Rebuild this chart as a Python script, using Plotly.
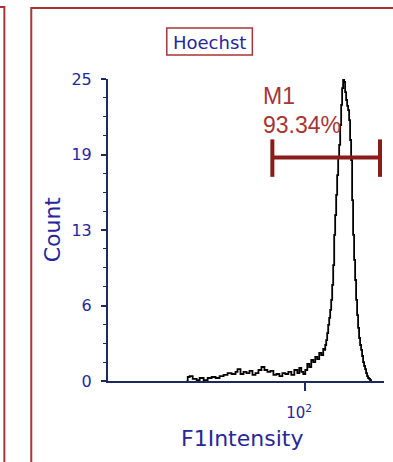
import plotly.graph_objects as go

# ---- data ----
intensity = [14.4, 14.66, 15.14, 15.90, 16.97, 17.82, 19.02, 20.30, 21.67, 23.12, 24.69,
             26.35, 28.12, 30.02, 32.03, 33.10, 34.75, 36.50, 38.32, 40.25, 42.27,
             44.38, 46.60, 48.94, 51.39, 53.96, 56.68, 59.52, 62.50, 65.61, 68.91,
             72.36, 75.98, 79.78, 83.78, 87.99, 90.90, 93.91, 97.03, 100.2, 103.6,
             107.0, 110.5, 114.2, 118.0, 121.9, 125.9, 130.1, 134.4, 136.6, 138.9,
             141.1, 143.4, 145.8, 148.2, 150.6, 153.1, 155.6, 158.2, 160.8, 163.4,
             166.1, 168.8, 171.6, 174.4, 177.3, 180.2, 183.1, 186.1, 189.2, 192.3,
             195.5, 198.7, 202.0, 205.3, 208.6, 212.1, 215.6, 219.1, 222.7, 226.4,
             230.1, 233.9, 237.7, 241.6, 245.6, 249.7, 253.7, 257.9, 262.2, 266.5,
             270.8, 275.3, 279.8, 284.4, 289.1, 293.8]
count = [0, 0.33, 0.41, 0.17, 0.08, 0.25, 0.08, 0.25, 0.33, 0.25, 0.41,
         0.50, 0.66, 0.58, 0.75, 0.99, 0.58, 0.75, 0.66, 0.83, 0.50,
         0.66, 0.91, 1.16, 0.91, 0.75, 0.83, 0.50, 0.58, 0.41, 0.66,
         0.58, 0.75, 0.50, 0.91, 0.66, 1.08, 0.75, 0.58, 0.91, 1.41,
         1.16, 1.74, 1.57, 1.99, 1.82, 2.32, 2.15, 2.65, 2.57, 2.98,
         3.39, 3.97, 4.64, 5.22, 5.88, 6.71, 7.95, 9.60, 12.09, 13.74,
         15.40, 17.05, 18.46, 19.54, 21.19, 22.85, 24.25, 24.95, 24.75, 23.92,
         23.26, 22.77, 22.43, 21.60, 19.95, 18.29, 14.98, 12.09, 10.02, 8.36,
         6.71, 5.46, 4.39, 3.56, 2.98, 2.57, 2.07, 1.57, 1.24, 0.99,
         0.66, 0.41, 0.25, 0.17, 0.08, 0]

y_tickvals = [0, 6.25, 12.5, 18.75, 25]
y_ticktext = ["0", "6", "13", "19", "25"]
x_tickvals = [100]
x_ticktext = ["10<sup>2</sup>"]

marker_name = "M1"
marker_pct = "93.34%"
marker_range = [58.5, 340.0]
marker_level = 18.5
marker_cap = [16.9, 20.0]

title_text = "Hoechst"
x_title = "F1Intensity"
y_title = "Count"

NAVY = "#1c2a5e"
LBLUE = "#27279a"
RED = "#a83535"
MRED = "#8b1a1a"

fig = go.Figure()
fig.add_trace(go.Scatter(x=intensity, y=count, mode="lines",
                         line=dict(color="black", width=1.8, shape="hv"),
                         hoverinfo="skip", showlegend=False))

# M1 marker bar
fig.add_shape(type="line", xref="x", yref="y", x0=marker_range[0], x1=marker_range[1],
              y0=marker_level, y1=marker_level, line=dict(color=MRED, width=4))
for xv in marker_range:
    fig.add_shape(type="line", xref="x", yref="y", x0=xv, x1=xv,
                  y0=marker_cap[0], y1=marker_cap[1], line=dict(color=MRED, width=4))

# frames (paper coords)
fig.add_shape(type="path", xref="paper", yref="paper",
              path="M -0.40 1.2384 L -0.3755 1.2384 L -0.3755 -0.32",
              line=dict(color=RED, width=2))
fig.add_shape(type="path", xref="paper", yref="paper",
              path="M 1.05 1.2351 L -0.278 1.2351 L -0.278 -0.32",
              line=dict(color=RED, width=2))
# title box
fig.add_shape(type="rect", xref="paper", yref="paper",
              x0=0.213, x1=0.523, y0=1.0795, y1=1.169,
              line=dict(color=RED, width=1.5))

fig.add_annotation(text=title_text, xref="paper", yref="paper", x=0.368, y=1.1225,
                   showarrow=False, font=dict(family="DejaVu Sans", size=18, color=LBLUE),
                   xanchor="center", yanchor="middle")
fig.add_annotation(text=marker_name, xref="paper", yref="paper", x=0.553, y=0.995,
                   showarrow=False, font=dict(family="Liberation Sans", size=23, color=RED),
                   xanchor="left", yanchor="top")
fig.add_annotation(text=marker_pct, xref="paper", yref="paper", x=0.553, y=0.896,
                   showarrow=False, font=dict(family="Liberation Sans", size=23, color=RED),
                   xanchor="left", yanchor="top")
fig.add_annotation(text=x_title, xref="paper", yref="paper", x=0.484, y=-0.19,
                   showarrow=False, font=dict(family="DejaVu Sans", size=22, color=LBLUE),
                   xanchor="center", yanchor="middle")
fig.add_annotation(text=y_title, xref="paper", yref="paper", x=-0.202, y=0.503,
                   showarrow=False, textangle=-90,
                   font=dict(family="DejaVu Sans", size=22, color=LBLUE),
                   xanchor="center", yanchor="middle")

fig.update_xaxes(type="log", range=[0.6, 2.56], showgrid=False, zeroline=False,
                 showline=True, linecolor=NAVY, linewidth=2,
                 tickvals=x_tickvals, ticktext=x_ticktext,
                 ticks="outside", ticklen=8, tickwidth=2, tickcolor=NAVY,
                 ticklabelshift=-6, ticklabelstandoff=9,
                 tickfont=dict(family="DejaVu Sans", size=15, color=LBLUE))
fig.update_yaxes(range=[0, 25], showgrid=False, zeroline=False,
                 showline=True, linecolor=NAVY, linewidth=2,
                 tickvals=y_tickvals, ticktext=y_ticktext,
                 ticks="outside", ticklen=5, tickwidth=1.5, tickcolor=NAVY,
                 ticklabelstandoff=6,
                 minor=dict(ticks="outside", dtick=1.5625, tick0=0, ticklen=3,
                            tickwidth=1, tickcolor=NAVY),
                 tickfont=dict(family="DejaVu Sans", size=16, color=LBLUE))

fig.update_layout(width=393, height=462,
                  margin=dict(l=108, r=9, t=79, b=81, autoexpand=False),
                  plot_bgcolor="white", paper_bgcolor="white", showlegend=False)

fig.write_html("out.html", config={"displayModeBar": False},
               post_script="document.body.style.margin='0';document.body.style.overflow='hidden';")
